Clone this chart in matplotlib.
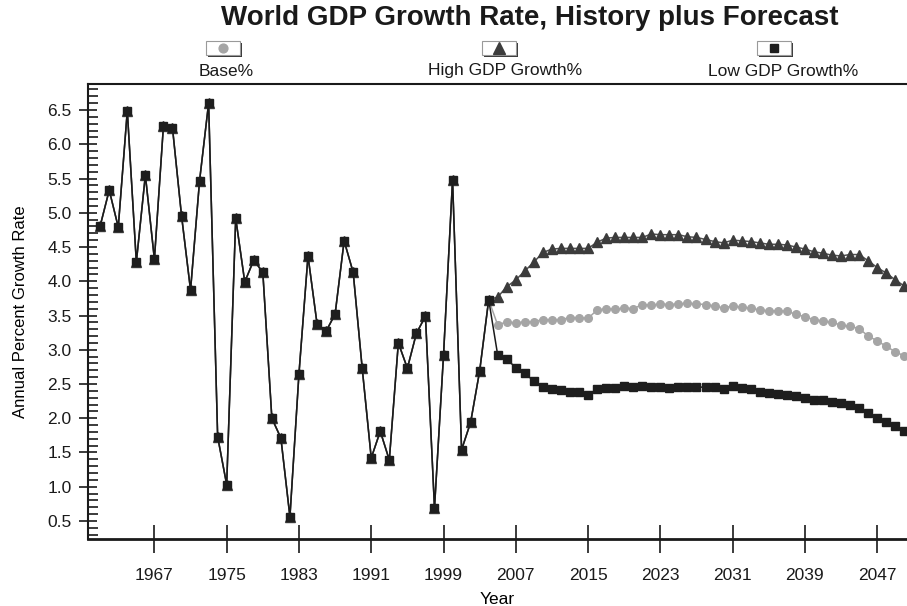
# -*- encoding: utf-8 -*-
import matplotlib
matplotlib.use('Agg')
from matplotlib import pyplot as plt
import matplotlib.patheffects as pe
from matplotlib.patches import Rectangle
from matplotlib.lines import Line2D
from matplotlib.ticker import MultipleLocator, FormatStrFormatter

plt.rcParams['font.family'] = ['Liberation Sans', 'DejaVu Sans']

# storico 1961-2004 (uguale per le tre serie)
hist_years = list(range(1961, 2005))
hist = [4.81, 5.33, 4.79, 6.49, 4.28, 5.55, 4.32, 6.27, 6.24, 4.96,
        3.87, 5.47, 6.60, 1.73, 1.03, 4.92, 3.99, 4.31, 4.13, 2.00,
        1.71, 0.56, 2.65, 4.37, 3.38, 3.27, 3.52, 4.59, 4.13, 2.73,
        1.42, 1.81, 1.39, 3.10, 2.73, 3.24, 3.49, 0.69, 2.92, 5.48,
        1.54, 1.94, 2.69, 3.73]

# previsioni 2005-2050
fc_years = list(range(2005, 2051))
base_fc = [3.36, 3.41, 3.39, 3.41, 3.41, 3.44, 3.44, 3.44, 3.47, 3.47,
           3.46, 3.58, 3.60, 3.59, 3.61, 3.60, 3.66, 3.65, 3.67, 3.66,
           3.67, 3.68, 3.67, 3.66, 3.64, 3.61, 3.64, 3.62, 3.61, 3.58,
           3.57, 3.57, 3.56, 3.52, 3.48, 3.44, 3.42, 3.40, 3.36, 3.34,
           3.31, 3.20, 3.13, 3.05, 2.97, 2.91]
high_fc = [3.77, 3.92, 4.02, 4.15, 4.28, 4.42, 4.47, 4.48, 4.48, 4.48,
           4.48, 4.57, 4.63, 4.64, 4.64, 4.64, 4.64, 4.69, 4.68, 4.68,
           4.68, 4.65, 4.64, 4.61, 4.58, 4.56, 4.60, 4.59, 4.58, 4.56,
           4.54, 4.54, 4.53, 4.50, 4.47, 4.43, 4.41, 4.38, 4.37, 4.39,
           4.39, 4.30, 4.20, 4.12, 4.02, 3.93]
low_fc = [2.92, 2.86, 2.74, 2.66, 2.54, 2.45, 2.42, 2.41, 2.39, 2.38,
          2.34, 2.43, 2.44, 2.44, 2.47, 2.46, 2.47, 2.45, 2.46, 2.44,
          2.45, 2.45, 2.46, 2.45, 2.45, 2.42, 2.47, 2.44, 2.42, 2.39,
          2.37, 2.36, 2.34, 2.32, 2.29, 2.27, 2.27, 2.24, 2.22, 2.19,
          2.15, 2.07, 2.01, 1.95, 1.88, 1.82]

years = hist_years + fc_years
base = hist + base_fc
high = hist + high_fc
low = hist + low_fc

labels = ["Base%", "High GDP Growth%", "Low GDP Growth%"]
x_ticks = list(range(1967, 2048, 8))

W, H = 907., 606.

def fx(x):
    return x / W

def fy(y):
    return 1 - y / H

f1 = plt.figure(figsize=(9.07, 6.06), dpi=100)
ax1 = f1.add_axes([fx(88), fy(539), 819 / W, 455 / H])

s_base, = ax1.plot(years, base, color='#a5a5a5', lw=1.1, marker='o', ms=5.5,
                   mfc='#a5a5a5', mec='#a5a5a5', zorder=2)
s_high, = ax1.plot(years, high, color='#505050', lw=1.1, marker='^', ms=7.5,
                   mfc='#3c3c3c', mec='#3c3c3c', zorder=3)
s_low, = ax1.plot(years, low, color='#1a1a1a', lw=1.1, marker='s', ms=5.2,
                  mfc='#1e1e1e', mec='#1e1e1e', zorder=4)

ax1.set_xlim((1959.65, 2050.3))
ax1.set_ylim((0.237, 6.88))

ax1.set_xticks(x_ticks)
ax1.yaxis.set_major_locator(MultipleLocator(0.5))
ax1.yaxis.set_minor_locator(MultipleLocator(0.1))
ax1.yaxis.set_major_formatter(FormatStrFormatter('%.1f'))

ax1.tick_params(axis='x', direction='inout', length=20, width=1.2, pad=11,
                labelsize=12.5, colors='#1a1a1a')
ax1.tick_params(axis='y', which='major', direction='inout', length=13.5, width=1.2,
                pad=5, labelsize=12.5, colors='#1a1a1a')
ax1.tick_params(axis='y', which='minor', direction='in', length=7, width=1.2,
                colors='#1a1a1a')

ax1.spines['right'].set_visible(False)
for s in ('top', 'left'):
    ax1.spines[s].set_linewidth(1.5)
    ax1.spines[s].set_color('#1a1a1a')
ax1.spines['bottom'].set_linewidth(2)
ax1.spines['bottom'].set_color('#1a1a1a')
ax1.spines['bottom'].set_path_effects([
    pe.SimplePatchShadow(offset=(3, -2.5), shadow_rgbFace='#8a8a8a', alpha=1.0),
    pe.Normal()])

ax1.set_xlabel("Year", fontsize=12.5, labelpad=6)
ax1.set_ylabel("Annual Percent Growth Rate", fontsize=12, labelpad=14)

f1.text(fx(530), fy(18), "World GDP Growth Rate, History plus Forecast",
        ha='center', va='center', fontsize=20, fontweight='bold', color='#1a1a1a')

# legenda in alto: scatolina col simbolo e testo sotto
leg_box_x = [206, 482, 757]
leg_text_x = [226, 505, 783]
for line, bx, tx, lab in zip((s_base, s_high, s_low), leg_box_x, leg_text_x, labels):
    f1.add_artist(Rectangle((fx(bx + 2), fy(57)), 34 / W, 14 / H,
                            transform=f1.transFigure, facecolor='#3a3a3a',
                            edgecolor='none'))
    f1.add_artist(Rectangle((fx(bx), fy(55)), 34 / W, 14 / H,
                            transform=f1.transFigure, facecolor='white',
                            edgecolor='#9a9a9a', lw=0.8))
    f1.add_artist(Line2D([fx(bx + 17)], [fy(48)], transform=f1.transFigure,
                         marker=line.get_marker(), ms=line.get_markersize() * 1.15,
                         mfc=line.get_markerfacecolor(), mec=line.get_markeredgecolor(),
                         lw=0))
    f1.text(fx(tx), fy(71), lab, ha='center', va='center', fontsize=12.5,
            color='#1a1a1a')

f1.savefig('out.png', dpi=100)
